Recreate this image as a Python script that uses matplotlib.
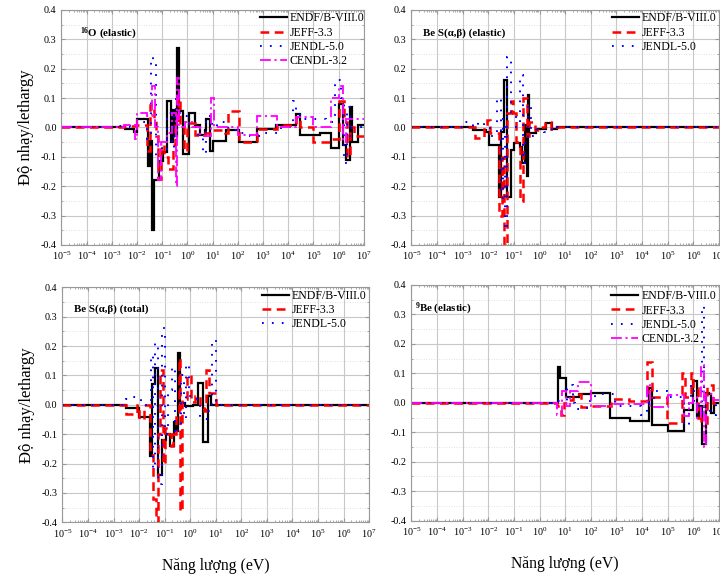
import numpy as np
import matplotlib
matplotlib.use("Agg")
import matplotlib.pyplot as plt
from matplotlib.ticker import LogLocator, MultipleLocator, FormatStrFormatter, LogFormatterSciNotation, NullFormatter

plt.rcParams['font.family'] = ['Liberation Serif', 'DejaVu Serif']
plt.rcParams['mathtext.fontset'] = 'custom'
plt.rcParams['mathtext.rm'] = 'Liberation Serif'
plt.rcParams['mathtext.bf'] = 'Liberation Serif:bold'
plt.rcParams['mathtext.it'] = 'Liberation Serif:italic'
plt.rcParams['axes.unicode_minus'] = False

# ---------------- data : (group edges in eV, sensitivity per lethargy) ----------------
# Panel 1: 16O (elastic)
o16_endf_E = [1e-5, 3.2e-3, 7.8e-3, 1e-2, 2.6e-2, 3.2e-2, 4e-2, 4.8e-2, 7.5e-2, 0.11, 0.156, 0.225, 0.27,
              0.324, 0.40, 0.453, 0.67, 1.2, 2.0, 3.0, 4.8, 5.5, 7.5, 10, 35, 110, 600, 3400, 2e4, 3e4,
              1.8e5, 5e5, 1e6, 1.5e6, 2e6, 2.8e6, 3.5e6, 6e6, 1e7]
o16_endf_V = [0, -0.005, -0.015, 0.03, -0.13, -0.045, -0.35, -0.18, -0.115, -0.085, 0.09, -0.05, 0.06,
              -0.03, 0.27, 0.055, -0.09, 0.05, 0.01, -0.025, -0.01, 0.03, -0.08, -0.045, -0.01, -0.05,
              -0.005, 0.01, 0.045, -0.025, -0.02, -0.07, 0.08, -0.06, -0.11, 0.07, -0.05, 0.01]
o16_jeff_E = [1e-5, 3e-3, 8e-3, 2.5e-2, 3.2e-2, 4.5e-2, 5.5e-2, 6.5e-2, 9e-2, 0.12, 0.17, 0.27, 0.33,
              0.42, 0.5, 0.7, 1.0, 2.0, 5.0, 10, 30, 40, 110, 550, 3500, 2e4, 3e4, 1e5, 5e5, 1e6,
              1.6e6, 2.2e6, 2.8e6, 4e6, 1e7]
o16_jeff_V = [0, 0.005, 0.01, -0.08, 0.075, 0.03, -0.03, -0.175, -0.06, -0.1, -0.14, -0.06, 0.02,
              0.1, 0.01, -0.08, 0.015, -0.025, -0.02, -0.01, -0.02, 0.055, -0.05, -0.005, 0.01, 0.035,
              0.0, -0.05, -0.04, 0.09, 0.02, -0.1, 0.0, -0.03]
o16_jendl_E = [1e-5, 2e-3, 5e-3, 1e-2, 2.5e-2, 3.5e-2, 4.2e-2, 5.5e-2, 7e-2, 0.1, 0.15, 0.25, 0.3, 0.35,
               0.42, 0.7, 1.2, 2.5, 4, 5.5, 9, 15, 40, 100, 300, 1000, 5000, 1.5e4, 2e4, 3e4, 1e5,
               3e5, 7e5, 1.2e6, 1.6e6, 2.2e6, 2.8e6, 3.5e6, 1e7]
o16_jendl_V = [0, 0.005, 0.0, 0.02, -0.04, 0.24, 0.22, -0.1, -0.05, -0.08, 0.05, -0.07, 0.06, 0.1,
               0.05, 0.04, 0.0, -0.03, -0.09, 0.04, 0.0, 0.02, -0.01, -0.02, -0.03, -0.02, 0.0, 0.09,
               0.06, 0.03, 0.03, 0.02, 0.16, 0.1, -0.12, 0.07, -0.03, 0.0]
o16_cendl_E = [1e-5, 3e-3, 8e-3, 1e-2, 2.5e-2, 3.8e-2, 5e-2, 7e-2, 9e-2, 0.15, 0.25, 0.35, 0.4, 0.45,
               0.8, 1.5, 3, 8.5, 11, 100, 600, 3500, 2e4, 1e5, 5e5, 1e6, 1.5e6, 2e6, 3e6, 1e7]
o16_cendl_V = [0, 0.01, -0.04, 0.05, 0.04, 0.14, 0.0, -0.18, -0.05, -0.02, 0.05, -0.2, 0.17, 0.0,
               0.02, 0.0, -0.03, 0.1, 0.0, -0.025, 0.04, 0.0, 0.035, 0.0, 0.1, 0.14, -0.05, 0.03, 0.03]

# Panel 2: Be S(a,b) (elastic)
besab_el_endf_E = [1e-5, 2.6e-3, 8e-3, 1.1e-2, 2.7e-2, 3.1e-2, 4.2e-2, 5.2e-2, 7.5e-2, 0.104, 0.172,
                   0.212, 0.27, 0.314, 0.363, 0.398, 0.726, 1.78, 2.95, 4.7, 1e7]
besab_el_endf_V = [0, -0.01, -0.015, -0.06, -0.235, -0.015, 0.16, -0.235, -0.077, -0.054, -0.065,
                   -0.12, 0.01, -0.165, 0.11, -0.02, -0.005, 0.015, -0.005, 0.0]
besab_el_jeff_E = [1e-5, 3e-3, 6.5e-3, 9e-3, 1.2e-2, 2.6e-2, 3.5e-2, 4e-2, 5.2e-2, 7.5e-2, 9.5e-2,
                   0.12, 0.17, 0.22, 0.31, 0.4, 0.65, 1.0, 1.6, 2.9, 5.0, 1e7]
besab_el_jeff_V = [0, -0.035, 0.0, 0.025, -0.02, -0.3, -0.1, -0.4, 0.05, 0.09, 0.05, -0.05, -0.25,
                   0.1, -0.03, 0.02, -0.01, 0.0, 0.02, -0.005, 0.0]
besab_el_jendl_E = [1e-5, 1e-3, 2.5e-3, 4e-3, 7e-3, 1.2e-2, 2.2e-2, 3e-2, 3.8e-2, 4.5e-2, 5.5e-2, 8e-2,
                    0.12, 0.17, 0.22, 0.28, 0.35, 0.45, 0.7, 1.5, 3.0, 5.0, 1e7]
besab_el_jendl_V = [0, 0.02, 0.0, 0.02, 0.0, -0.03, 0.1, -0.24, 0.03, -0.35, 0.24, 0.05, 0.0, 0.18,
                    -0.12, -0.04, 0.08, -0.03, -0.01, -0.015, 0.005, 0.0]

# Panel 3: Be S(a,b) (total)
besab_tot_endf_E = [1e-5, 3.2e-3, 1e-2, 2.6e-2, 3.3e-2, 4.1e-2, 5.5e-2, 7.9e-2, 0.116, 0.167, 0.225,
                    0.285, 0.33, 0.41, 0.6, 1.27, 2.0, 3.2, 4.9, 6.6, 1e7]
besab_tot_endf_V = [0, -0.01, -0.04, -0.175, 0.07, 0.125, -0.24, -0.12, -0.1, -0.14, -0.06, -0.09,
                    0.175, 0.005, -0.005, 0.0, 0.075, -0.125, 0.03, 0.0]
besab_tot_jeff_E = [1e-5, 3.2e-3, 8.4e-3, 1e-2, 1.5e-2, 2.6e-2, 3.5e-2, 4.5e-2, 5.5e-2, 6.4e-2, 8.6e-2,
                    0.1, 0.13, 0.17, 0.22, 0.29, 0.37, 0.41, 0.47, 0.75, 1.1, 1.6, 2.5, 3.5, 4.2,
                    5.6, 10.0, 1e7]
besab_tot_jeff_V = [0, -0.03, 0.0, -0.05, 0.0, -0.17, -0.32, -0.4, -0.1, 0.12, -0.2, -0.08, -0.1,
                    -0.14, -0.1, -0.04, 0.16, -0.36, 0.02, 0.1, 0.01, 0.03, -0.01, -0.02, 0.12, 0.04,
                    0.0]
besab_tot_jendl_E = [1e-5, 3e-3, 5e-3, 8e-3, 1.2e-2, 2.8e-2, 3.5e-2, 4.3e-2, 5.5e-2, 8e-2, 0.1, 0.14,
                     0.2, 0.25, 0.33, 0.45, 0.55, 0.7, 0.9, 1.2, 2.5, 5.0, 7.0, 10.0, 12.0, 1e7]
besab_tot_jendl_V = [0, 0.02, 0.025, 0.02, 0.0, 0.17, -0.22, 0.21, -0.27, 0.26, -0.1, 0.05, 0.13,
                     -0.1, -0.08, 0.1, -0.05, 0.14, 0.03, 0.02, -0.05, -0.02, 0.22, 0.01, 0.0]

# Panel 4: 9Be (elastic)
be9_endf_E = [1e-5, 5.2, 6.4, 10.7, 33.5, 105, 580, 3300, 1.9e4, 2.5e4, 1e5, 4.3e5, 9.9e5, 1.4e6,
              1.7e6, 2.2e6, 3.0e6, 4.0e6, 4.7e6, 6.3e6, 1e7]
be9_endf_V = [0, 0.12, 0.085, 0.02, 0.03, 0.035, -0.05, -0.063, 0.05, -0.075, -0.095, -0.025, 0.075,
              -0.045, -0.01, -0.14, 0.035, 0.03, -0.035, 0.0]
be9_jeff_E = [1e-5, 5.0, 7.0, 9.0, 12, 20, 40, 100, 600, 3000, 1.6e4, 2.5e4, 9.7e4, 3.6e5, 4.7e5, 8e5,
              1.0e6, 1.5e6, 2e6, 3.5e6, 6e6, 1e7]
be9_jeff_V = [0, -0.01, -0.04, 0.0, 0.01, 0.03, -0.015, -0.01, 0.012, 0.005, 0.14, 0.02, -0.07, 0.1,
              0.02, 0.1, 0.05, -0.05, -0.07, 0.06, 0.0]
be9_jendl_E = [1e-5, 5.0, 12, 20, 25, 70, 150, 235, 900, 8.7e3, 1.6e4, 2.9e4, 9.4e4, 3.5e5, 4.3e5,
               6.6e5, 8e5, 1.05e6, 1.6e6, 2.2e6, 2.7e6, 4.5e6, 8e6, 1e7]
be9_jendl_V = [0, 0.005, 0.06, 0.0, -0.02, 0.005, 0.025, 0.03, -0.01, -0.04, 0.0, 0.04, 0.02, 0.0,
               -0.08, 0.0, 0.06, -0.01, -0.03, 0.33, -0.02, -0.04, 0.0]
be9_cendl_E = [1e-5, 4.8, 7.5, 10.7, 16, 33, 100, 600, 1.6e4, 2.1e4, 1e5, 4.3e5, 6.5e5, 1e6, 1.4e6,
               2.0e6, 2.6e6, 3.0e6, 6.0e6, 1e7]
be9_cendl_V = [0, -0.04, 0.04, -0.01, 0.04, 0.07, -0.01, -0.005, 0.06, -0.015, 0.025, -0.045, 0.0,
               0.02, -0.05, 0.13, -0.15, 0.03, 0.01]

libraries = ['ENDF/B-VIII.0', 'JEFF-3.3', 'JENDL-5.0', 'CENDL-3.2']
panel_titles = [r'$^{\mathbf{16}}$O (elastic)', 'Be S(α,β) (elastic)',
                'Be S(α,β) (total)', r'$^{\mathbf{9}}$Be (elastic)']
y_ticks = [-0.4, -0.3, -0.2, -0.1, 0.0, 0.1, 0.2, 0.3, 0.4]
ylabel_text = 'Độ nhạy/lethargy'
xlabel_text = 'Năng lượng (eV)'

styles = {
    'ENDF/B-VIII.0': dict(color='black', lw=1.6, linestyle='-'),
    'JEFF-3.3': dict(color='#ff0000', lw=1.8, linestyle=(0, (3.5, 2.2))),
    'JENDL-5.0': dict(color='#0000ff', lw=1.4, linestyle=(0, (0.9, 4.2))),
    'CENDL-3.2': dict(color='#ff00ff', lw=1.3, linestyle=(0, (6, 2, 1.2, 2))),
}

panels = [
    dict(pos=[0.0854, 0.5732, 0.420, 0.4094], title=panel_titles[0], tpos=(0.06, 0.90), lpos=(0.655, 0.99),
         series=[(o16_endf_E, o16_endf_V), (o16_jeff_E, o16_jeff_V), (o16_jendl_E, o16_jendl_V),
                 (o16_cendl_E, o16_cendl_V)], ylabel=True, xlabel=False),
    dict(pos=[0.5715, 0.5732, 0.427, 0.4094], title=panel_titles[1], tpos=(0.036, 0.90), lpos=(0.652, 0.99),
         series=[(besab_el_endf_E, besab_el_endf_V), (besab_el_jeff_E, besab_el_jeff_V),
                 (besab_el_jendl_E, besab_el_jendl_V)], ylabel=False, xlabel=False),
    dict(pos=[0.0867, 0.0901, 0.426, 0.4094], title=panel_titles[2], tpos=(0.037, 0.905), lpos=(0.65, 0.99),
         series=[(besab_tot_endf_E, besab_tot_endf_V), (besab_tot_jeff_E, besab_tot_jeff_V),
                 (besab_tot_jendl_E, besab_tot_jendl_V)], ylabel=True, xlabel=True),
    dict(pos=[0.5715, 0.0929, 0.427, 0.4106], title=panel_titles[3], tpos=(0.012, 0.90), lpos=(0.65, 0.978),
         series=[(be9_endf_E, be9_endf_V), (be9_jeff_E, be9_jeff_V), (be9_jendl_E, be9_jendl_V),
                 (be9_cendl_E, be9_cendl_V)], ylabel=False, xlabel=True),
]

fig = plt.figure(figsize=(7.2, 5.74), dpi=100)
grid_c = '#c8c8c8'
for p in panels:
    ax = fig.add_axes(p['pos'])
    ax.set_xscale('log')
    ax.set_xlim(1e-5, 1e7)
    ax.set_ylim(-0.4, 0.4)
    ax.set_yticks(y_ticks)
    ax.yaxis.set_major_formatter(FormatStrFormatter('%.1f'))
    ax.yaxis.set_minor_locator(MultipleLocator(0.05))
    ax.xaxis.set_major_locator(LogLocator(base=10, numticks=20))
    ax.xaxis.set_minor_locator(LogLocator(base=10, subs=np.arange(2, 10), numticks=200))
    ax.xaxis.set_major_formatter(LogFormatterSciNotation())
    ax.xaxis.set_minor_formatter(NullFormatter())
    ax.grid(True, which='major', color=grid_c, lw=0.8)
    ax.grid(True, which='minor', axis='y', color='#d8d8d8', lw=0.6, linestyle=(0, (1, 2)))
    ax.set_axisbelow(True)
    for s in ax.spines.values():
        s.set_color('#999999')
        s.set_linewidth(0.8)
    ax.tick_params(which='both', direction='in', top=True, right=True, colors='#999999',
                   labelcolor='black', labelsize=7.3)
    ax.tick_params(which='major', length=3)
    ax.tick_params(which='minor', length=1.5)
    for lib, (E, V) in zip(libraries, p['series']):
        ax.stairs(V, E, baseline=None, label=lib, **styles[lib])
    leg = ax.legend(loc='upper left', bbox_to_anchor=p['lpos'], frameon=False, fontsize=8.5,
                    handlelength=2.3, handletextpad=0.25, labelspacing=0.2, borderpad=0,
                    borderaxespad=0)
    ax.text(p['tpos'][0], p['tpos'][1], p['title'], transform=ax.transAxes, fontsize=7.8,
            fontweight='bold', va='center', ha='left')
    if p['ylabel']:
        ax.set_ylabel(ylabel_text, fontsize=12, labelpad=5)
    if p['xlabel']:
        ax.set_xlabel(xlabel_text, fontsize=11.3, labelpad=13)

fig.savefig('out.png', dpi=100)
